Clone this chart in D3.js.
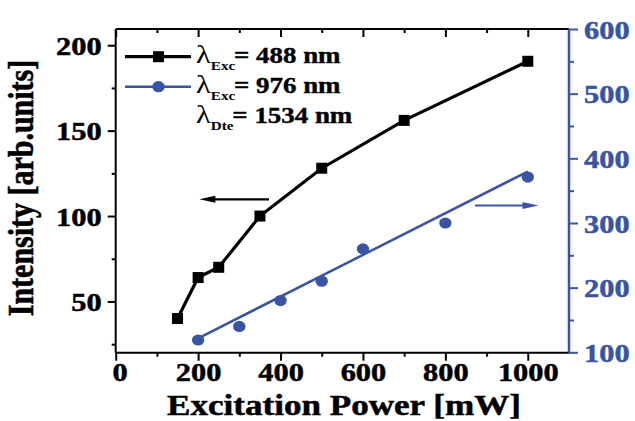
<!DOCTYPE html>
<html><head><meta charset="utf-8">
<script src="https://cdn.jsdelivr.net/npm/d3@7"></script>
<style>html,body{margin:0;padding:0;background:#fff;}
svg text{font-family:"Liberation Serif","Times New Roman",Times,serif;}</style>
</head><body>
<svg id="c" width="635" height="421"></svg>
<script>
// ---- data ----
const power488 = [150, 200, 250, 350, 500, 700, 1000];
const int488   = [40, 64, 70, 100, 128, 156, 190.6];
const power976 = [200, 300, 400, 500, 600, 800, 1000];
const int976   = [119, 140, 180, 210, 260, 300, 371];
const fitX = [200, 1000];
const fitY = [121.7, 379.6];
const xTicks = [0, 200, 400, 600, 800, 1000];
const xMinor = [100, 300, 500, 700, 900];
const yLeftTicks = [50, 100, 150, 200];
const yLeftMinor = [25, 75, 125, 175];
const yRightTicks = [100, 200, 300, 400, 500, 600];
const yRightMinor = [150, 250, 350, 450, 550];
const legendLabels = [["Exc", "= 488 nm"], ["Exc", "= 976 nm"], ["Dte", "= 1534 nm"]];
const arrowLeft = {x: [372, 203], y: 109.8};
const arrowRight = {x: [872, 1026], y: 327};

const BLUE = "#3a54a4";
const SX = 1.17;

const svg = d3.select("#c");
const L = 115.7, R = 569, T = 29, B = 352.7;
const x = d3.scaleLinear().domain([0, 1100]).range([L, R]);
const yL = d3.scaleLinear().domain([20, 209.5]).range([B, T]);
const yR = d3.scaleLinear().domain([100, 600]).range([352.3, 29]);

function styleTicks(g, color){
  g.attr("font-family", null);
  g.select(".domain").remove();
  g.selectAll("line").attr("stroke", color).attr("stroke-width", 2);
  g.selectAll("text").attr("fill", color).attr("stroke", color).attr("stroke-width", 0.5)
    .attr("font-weight", "bold").attr("font-size", 26);
}

// bottom axis
const gB = svg.append("g").attr("transform", `translate(0,${B})`);
gB.call(d3.axisBottom(x).tickValues(xTicks).tickSize(8).tickFormat(d3.format("d")));
styleTicks(gB, "#000");
gB.selectAll("text").attr("y", 0).attr("dy", 0)
  .attr("transform", d => `translate(${d === 0 ? 4 : 0},28) scale(${SX},1)`);
gB.append("g").call(d3.axisBottom(x).tickValues(xMinor).tickSize(4).tickFormat(""))
  .call(g => styleTicks(g, "#000"));
// top ticks (inward)
const gT = svg.append("g").attr("transform", `translate(0,${T})`);
gT.call(d3.axisBottom(x).tickValues(xTicks).tickSize(8).tickFormat("")).call(g => styleTicks(g, "#000"));
gT.append("g").call(d3.axisBottom(x).tickValues(xMinor).tickSize(4).tickFormat("")).call(g => styleTicks(g, "#000"));

// left axis
const gL = svg.append("g").attr("transform", `translate(${L},0)`);
gL.call(d3.axisLeft(yL).tickValues(yLeftTicks).tickSize(8).tickFormat(d3.format("d")));
styleTicks(gL, "#000");
gL.selectAll("text").attr("x", 0).attr("dy", "0.35em")
  .attr("transform", `translate(-14,0) scale(${SX},1)`);
gL.append("g").call(d3.axisLeft(yL).tickValues(yLeftMinor).tickSize(4).tickFormat("")).call(g => styleTicks(g, "#000"));

// right axis
const gR = svg.append("g").attr("transform", `translate(${R},0)`);
gR.call(d3.axisRight(yR).tickValues(yRightTicks).tickSize(9).tickFormat(d3.format("d")));
styleTicks(gR, BLUE);
gR.selectAll("text").attr("x", 0).attr("dy", "0.35em")
  .attr("transform", `translate(15,0) scale(${SX},1)`);
gR.append("g").call(d3.axisRight(yR).tickValues(yRightMinor).tickSize(5).tickFormat("")).call(g => styleTicks(g, BLUE));

// frame lines
svg.append("line").attr("x1", L).attr("x2", R).attr("y1", B).attr("y2", B).attr("stroke", "#000").attr("stroke-width", 2);
svg.append("line").attr("x1", L).attr("x2", R).attr("y1", T).attr("y2", T).attr("stroke", "#000").attr("stroke-width", 2);
svg.append("line").attr("x1", L).attr("x2", L).attr("y1", T).attr("y2", B).attr("stroke", "#000").attr("stroke-width", 2);
svg.append("line").attr("x1", R).attr("x2", R).attr("y1", T).attr("y2", B).attr("stroke", BLUE).attr("stroke-width", 2.5);

// series 488
const d488 = power488.map((p, i) => [p, int488[i]]);
svg.append("path").datum(d488)
  .attr("d", d3.line().x(d => x(d[0])).y(d => yL(d[1])))
  .attr("fill", "none").attr("stroke", "#000").attr("stroke-width", 3.2);
svg.selectAll(".sq").data(d488).enter().append("rect")
  .attr("x", d => x(d[0]) - 5.5).attr("y", d => yL(d[1]) - 5.5)
  .attr("width", 11).attr("height", 11).attr("fill", "#000");

// series 976
const d976 = power976.map((p, i) => [p, int976[i]]);
const fit = fitX.map((p, i) => [p, fitY[i]]);
svg.append("path").datum(fit)
  .attr("d", d3.line().x(d => x(d[0])).y(d => yR(d[1])))
  .attr("fill", "none").attr("stroke", BLUE).attr("stroke-width", 2.5);
svg.selectAll(".ci").data(d976).enter().append("ellipse")
  .attr("cx", d => x(d[0])).attr("cy", d => yR(d[1]))
  .attr("rx", 6.2).attr("ry", 5.6).attr("fill", BLUE);

// arrows
function arrow(x1, x2, yy, color){
  const dir = Math.sign(x2 - x1);
  svg.append("line").attr("x1", x1).attr("x2", x2 - dir * 10).attr("y1", yy).attr("y2", yy)
    .attr("stroke", color).attr("stroke-width", 2.2);
  svg.append("path").attr("d", `M${x2},${yy} L${x2 - dir * 16},${yy - 3.5} L${x2 - dir * 16},${yy + 3.5} Z`)
    .attr("fill", color);
}
arrow(x(arrowLeft.x[0]), x(arrowLeft.x[1]), yL(arrowLeft.y), "#000");
arrow(x(arrowRight.x[0]), x(arrowRight.x[1]), yR(arrowRight.y), BLUE);

// legend
const legY = [56.7, 86.7];
const legC = ["#000", BLUE];
legY.forEach((yy, i) => {
  svg.append("line").attr("x1", 125).attr("x2", 191).attr("y1", yy).attr("y2", yy)
    .attr("stroke", legC[i]).attr("stroke-width", i === 0 ? 3.2 : 2.5);
  if (i === 0) svg.append("rect").attr("x", 153).attr("y", yy - 5.5).attr("width", 11).attr("height", 11).attr("fill", "#000");
  else svg.append("ellipse").attr("cx", 158.5).attr("cy", yy).attr("rx", 6.2).attr("ry", 5.6).attr("fill", BLUE);
});
const legBase = [63, 93, 123];
legendLabels.forEach((lab, i) => {
  const t = svg.append("text").attr("transform", `translate(196,${legBase[i]}) scale(${SX},1)`)
    .attr("font-size", 23).attr("fill", "#000");
  t.append("tspan").attr("font-size", 26).text("λ");
  t.append("tspan").attr("font-size", 13).attr("font-weight", "bold").attr("dy", 7).text(lab[0]);
  t.append("tspan").attr("font-weight", "bold").attr("stroke", "#000").attr("stroke-width", 0.4)
    .attr("dy", -7).attr("dx", -1).text(lab[1]);
});

// axis titles
svg.append("text").attr("transform", `translate(344,415) scale(${SX},1)`)
  .attr("text-anchor", "middle").attr("font-weight", "bold").attr("stroke", "#000").attr("stroke-width", 0.5)
  .attr("font-size", 30).text("Excitation Power [mW]");
svg.append("text").attr("transform", `translate(33,188) scale(${SX},1) rotate(-90)`)
  .attr("text-anchor", "middle").attr("font-weight", "bold").attr("stroke", "#000").attr("stroke-width", 0.5)
  .attr("font-size", 30).text("Intensity [arb.units]");
</script>
</body></html>
